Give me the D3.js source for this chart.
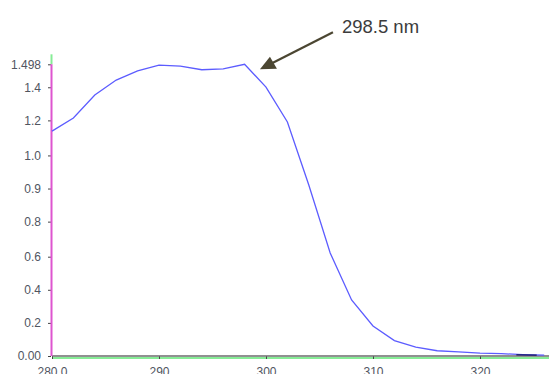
<!DOCTYPE html>
<html>
<head>
<meta charset="utf-8">
<script src="https://cdn.jsdelivr.net/npm/d3@7"></script>
<style>
  body { margin: 0; background: #fff; }
  svg { display: block; font-family: "Liberation Sans", Arial, sans-serif; }
  .tick text { fill: #50555f; font-size: 12px; }
  .tick line { stroke: #444; }
</style>
</head>
<body>
<div id="chart"></div>
<script>
// wavelength (nm) and absorbance
var wavelength = [280, 282, 284, 286, 288, 290, 292, 294, 296, 298, 300, 302, 304, 306, 308, 310, 312, 314, 316, 318, 320, 322, 324, 326];
var absorbance = [1.155, 1.222, 1.340, 1.417, 1.464, 1.494, 1.489, 1.470, 1.474, 1.498, 1.381, 1.202, 0.878, 0.529, 0.288, 0.154, 0.079, 0.046, 0.027, 0.021, 0.015, 0.012, 0.007, 0.004];

// short dark baseline trace visible at the far right
var baseX = [323.4, 325.3];
var baseY = [0.006, 0.004];

var xTickValues = [280, 290, 300, 310, 320];
var xTickLabels = ["280.0", "290", "300", "310", "320"];
var yTickValues = [0, 0.17, 0.34, 0.51, 0.69, 0.86, 1.03, 1.21, 1.38, 1.498];
var yTickLabels = ["0.00", "0.2", "0.4", "0.6", "0.8", "0.9", "1.0", "1.2", "1.4", "1.498"];

var peakLabel = "298.5 nm";
var peakX = 298.5, peakY = 1.498;

function spectrum_graph() {
    var width = 549, height = 374;
    var margin = {left: 52, bottom: 18, top: 64.3};

    var svg = d3.select("#chart").append("svg")
        .attr("width", width)
        .attr("height", height);

    // Define the scales
    var x = d3.scaleLinear()
        .domain([280, 326.45])
        .range([margin.left, width]);

    var y = d3.scaleLinear()
        .domain([0, 1.498])
        .range([height - margin.bottom, margin.top]);

    var data = wavelength.map(function(d, i) { return {x: d, y: absorbance[i]}; });
    var base = baseX.map(function(d, i) { return {x: d, y: baseY[i]}; });

    var line = d3.line()
        .x(function(d) { return x(d.x); })
        .y(function(d) { return y(d.y); });

    // x axis: grey line with a green line under it
    var y0 = y(0);
    svg.append("line")
        .attr("x1", margin.left).attr("x2", width)
        .attr("y1", y0 + 2).attr("y2", y0 + 2)
        .style("stroke", "#86ec96").style("stroke-width", 2);

    var xAxis = d3.axisBottom(x)
        .tickValues(xTickValues)
        .tickFormat(function(d, i) { return xTickLabels[i]; })
        .tickSize(3)
        .tickPadding(8);

    var gx = svg.append("g")
        .attr("class", "x axis")
        .attr("transform", "translate(0," + y0 + ")")
        .call(xAxis);
    gx.select(".domain").remove();

    svg.append("line")
        .attr("x1", margin.left).attr("x2", width)
        .attr("y1", y0).attr("y2", y0)
        .style("stroke", "#6b6b6b").style("stroke-width", 1.6);

    // y axis: magenta line, green stub above top value
    var yAxis = d3.axisLeft(y)
        .tickValues(yTickValues)
        .tickFormat(function(d, i) { return yTickLabels[i]; })
        .tickSize(3)
        .tickPadding(7);

    var gy = svg.append("g")
        .attr("class", "y axis")
        .attr("transform", "translate(" + (margin.left - 1) + ",0)")
        .call(yAxis);
    gy.select(".domain").remove();

    svg.append("line")
        .attr("x1", margin.left - 0.5).attr("x2", margin.left - 0.5)
        .attr("y1", y(peakY) - 10).attr("y2", y(peakY))
        .style("stroke", "#86ec96").style("stroke-width", 2);

    svg.append("line")
        .attr("x1", margin.left - 0.5).attr("x2", margin.left - 0.5)
        .attr("y1", y(peakY)).attr("y2", y0)
        .style("stroke", "#de55cf").style("stroke-width", 2);

    // spectrum
    svg.append("path")
        .datum(data)
        .attr("d", line)
        .style("fill", "none")
        .style("stroke", "#5c5cff")
        .style("stroke-width", 1.3);

    svg.append("path")
        .datum(base)
        .attr("d", line)
        .style("fill", "none")
        .style("stroke", "#14145a")
        .style("stroke-width", 1.3);

    // peak annotation with arrow
    var tipX = x(peakX) + 10, tipY = y(peakY) + 5;
    var arrowColor = "#4b4632";

    svg.append("line")
        .attr("x1", tipX + 12).attr("y1", tipY - 6)
        .attr("x2", tipX + 73).attr("y2", tipY - 37)
        .style("stroke", arrowColor)
        .style("stroke-width", 2.2);

    svg.append("path")
        .attr("d", "M" + tipX + "," + tipY +
                   "L" + (tipX + 10) + "," + (tipY - 12.5) +
                   "L" + (tipX + 17) + "," + (tipY - 0.5) + "Z")
        .style("fill", arrowColor);

    svg.append("text")
        .attr("x", tipX + 82)
        .attr("y", tipY - 36.5)
        .style("font-size", "18.5px")
        .style("fill", "#3c3c3c")
        .text(peakLabel);
}

spectrum_graph();
</script>
</body>
</html>
